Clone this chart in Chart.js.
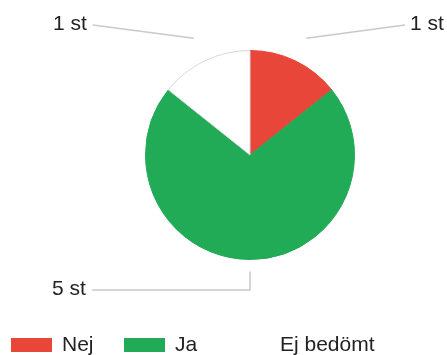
<!DOCTYPE html>
<html>
<head>
<meta charset="utf-8">
<script src="https://cdn.jsdelivr.net/npm/chart.js"></script>
<style>
  html, body { margin: 0; padding: 0; background: #fff; }
  #wrap { width: 447px; height: 355px; position: relative; }
</style>
</head>
<body>
<div id="wrap"><canvas id="pie" width="447" height="355"></canvas></div>
<script>
// answers per category
const categories = ['Nej', 'Ja', 'Ej bedömt'];
const counts = [1, 5, 1];
const sliceColors = ['#E9463A', '#22AB57', '#FFFFFF'];
const sliceBorders = ['#E9463A', '#22AB57', '#D8D8D8'];

const FONT = '21px "Liberation Sans", Arial, sans-serif';
const TEXT = '#222';

// where each count label sits and how far out its leader line starts
const labelSpots = [
  { x: 410, y: 24, gap: 25, elbow: false, side: 'right' },
  { x: 52, y: 289, gap: 12, elbow: true, side: 'left' },
  { x: 53, y: 24, gap: 25, elbow: false, side: 'left' }
];

const leaderLabels = {
  id: 'leaderLabels',
  afterDatasetsDraw(chart) {
    const ctx = chart.ctx;
    const arcs = chart.getDatasetMeta(0).data;
    ctx.save();
    ctx.font = FONT;
    ctx.textBaseline = 'middle';
    arcs.forEach((arc, i) => {
      const spot = labelSpots[i];
      const mid = (arc.startAngle + arc.endAngle) / 2;
      const r = arc.outerRadius + spot.gap;
      const ax = arc.x + Math.cos(mid) * r;
      const ay = arc.y + Math.sin(mid) * r;
      const text = counts[i] + ' st';
      const w = ctx.measureText(text).width;
      const endX = spot.side === 'left' ? spot.x + w + 6 : spot.x - 5;

      ctx.strokeStyle = '#C9C9C9';
      ctx.lineWidth = 1.5;
      ctx.beginPath();
      ctx.moveTo(ax, ay);
      if (spot.elbow) ctx.lineTo(ax, spot.y + 1);
      ctx.lineTo(endX, spot.y + 1);
      ctx.stroke();

      ctx.fillStyle = TEXT;
      ctx.textAlign = 'left';
      ctx.fillText(text, spot.x, spot.y);
    });
    ctx.restore();
  }
};

// legend row along the bottom edge
const legendX = [11, 124, 229];
const bottomLegend = {
  id: 'bottomLegend',
  afterDraw(chart) {
    const ctx = chart.ctx;
    ctx.save();
    ctx.font = FONT;
    ctx.textBaseline = 'middle';
    categories.forEach((name, i) => {
      const x = legendX[i];
      ctx.fillStyle = sliceColors[i];
      ctx.fillRect(x, 338, 41, 14);
      ctx.fillStyle = TEXT;
      ctx.fillText(name, x + 51, 345);
    });
    ctx.restore();
  }
};

new Chart(document.getElementById('pie'), {
  type: 'pie',
  data: {
    labels: categories,
    datasets: [{
      data: counts,
      backgroundColor: sliceColors,
      borderColor: sliceBorders,
      borderWidth: 1
    }]
  },
  options: {
    responsive: false,
    animation: false,
    layout: { padding: { top: 50, bottom: 95, left: 145, right: 92 } },
    plugins: {
      legend: { display: false },
      tooltip: { enabled: false }
    }
  },
  plugins: [leaderLabels, bottomLegend]
});
</script>
</body>
</html>
